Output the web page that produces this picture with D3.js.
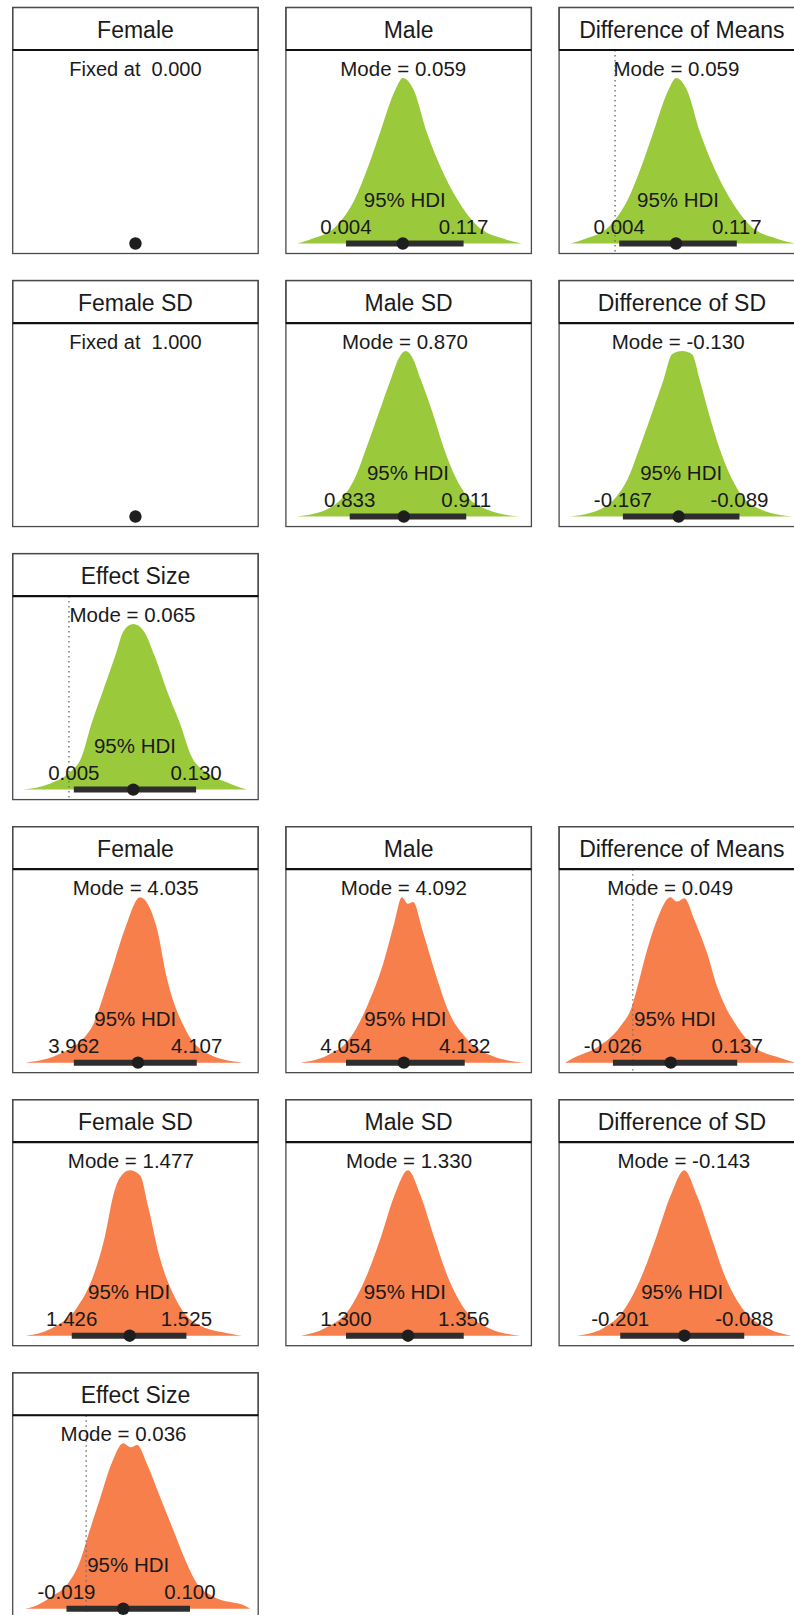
<!DOCTYPE html>
<html>
<head>
<meta charset="utf-8">
<script src="https://cdn.jsdelivr.net/npm/d3@7"></script>
<style>
  body { margin: 0; background: #fff; }
  svg text { font-family: "Liberation Sans", Arial, sans-serif; fill: #1a1a1a; white-space: pre; }
</style>
</head>
<body>
<script>
// panel data: 7 green panels (first model), 7 orange panels (second model)
const titles = ["Female", "Male", "Difference of Means", "Female SD", "Male SD", "Difference of SD", "Effect Size",
                "Female", "Male", "Difference of Means", "Female SD", "Male SD", "Difference of SD", "Effect Size"];
const modes   = [0.000, 0.059, 0.059, 1.000, 0.870, -0.130, 0.065, 4.035, 4.092, 0.049, 1.477, 1.330, -0.143, 0.036];
const isFixed = [true, false, false, true, false, false, false, false, false, false, false, false, false, false];
const hdiLow  = [null, 0.004, 0.004, null, 0.833, -0.167, 0.005, 3.962, 4.054, -0.026, 1.426, 1.300, -0.201, -0.019];
const hdiHigh = [null, 0.117, 0.117, null, 0.911, -0.089, 0.130, 4.107, 4.132, 0.137, 1.525, 1.356, -0.088, 0.100];
const centres = [0, 0.0586, 0.0586, 1, 0.8692, -0.1297, 0.0658, 4.0377, 4.092, 0.0499, 1.476, 1.3295, -0.1425, 0.0357];
const refLine = [null, null, 0, null, null, 0, 0, null, null, 0, null, null, 0, 0];
const xDomains = [[-1, 1], [-0.0538, 0.1822], [-0.0538, 0.1822], [0, 2], [0.7903, 0.9546], [-0.2097, -0.0454], [-0.0575, 0.1935],
                  [3.8899, 4.1795], [4.0145, 4.1758], [-0.0966, 0.2254], [1.375, 1.587], [1.2714, 1.3882], [-0.2567, -0.033], [-0.0708, 0.1657]];

// posterior densities, [value, height relative to peak]
const densGMale = [[-0.043,0],[-0.028,0.03],[-0.005,0.108],[0.0126,0.27],[0.025,0.46],[0.0367,0.67],[0.0515,0.93],[0.0586,1],
  [0.0689,0.93],[0.0817,0.67],[0.095,0.46],[0.1106,0.27],[0.13,0.108],[0.155,0.03],[0.173,0]];
const densGDiffMeans = [[-0.043,0],[-0.028,0.03],[-0.005,0.108],[0.0126,0.27],[0.025,0.46],[0.0367,0.67],[0.0515,0.93],[0.0586,1],
  [0.0689,0.93],[0.0817,0.67],[0.095,0.46],[0.1106,0.27],[0.13,0.108],[0.155,0.03],[0.173,0]];
const densGMaleSD = [[0.7977,0],[0.8178,0.044],[0.829,0.124],[0.8361,0.225],[0.8446,0.426],[0.8525,0.627],[0.8605,0.83],[0.866,0.96],
  [0.8705,1],[0.875,0.96],[0.8805,0.83],[0.8885,0.627],[0.8955,0.426],[0.9045,0.225],[0.9115,0.124],[0.9245,0.044],[0.9465,0]];
const densGDiffSD = [[-0.2023,0],[-0.1822,0.044],[-0.1710,0.124],[-0.1639,0.225],[-0.1554,0.426],[-0.1475,0.627],[-0.1398,0.826],
  [-0.1341,0.98],[-0.1274,1],[-0.1207,0.98],[-0.1156,0.826],[-0.1096,0.627],[-0.1029,0.426],[-0.0939,0.225],[-0.0872,0.124],[-0.0749,0.044],[-0.0528,0]];
const densGEffect = [[-0.047,0],[-0.0196,0.036],[-0.0008,0.097],[0.0129,0.197],[0.0231,0.399],[0.035,0.601],[0.047,0.802],[0.0562,0.962],
  [0.0658,1],[0.076,0.962],[0.088,0.802],[0.1,0.601],[0.1136,0.399],[0.1256,0.197],[0.1426,0.097],[0.1648,0.036],[0.1819,0]];
const densOFemale = [[3.905,0],[3.9415,0.044],[3.9816,0.2],[4.0036,0.51],[4.0231,0.82],[4.040,1],[4.0596,0.82],[4.0718,0.51],
  [4.0937,0.2],[4.124,0.044],[4.1606,0]];
const densOMale = [[4.0242,0],[4.0418,0.044],[4.0568,0.15],[4.0683,0.35],[4.0785,0.6],[4.0859,0.85],[4.0907,1],[4.0947,0.96],
  [4.0981,0.97],[4.1042,0.8],[4.1124,0.55],[4.1219,0.3],[4.1327,0.15],[4.149,0.044],[4.1707,0]];
const densODiffMeans = [[-0.0887,0],[-0.0778,0.028],[-0.045,0.098],[-0.0164,0.219],[-0.0011,0.34],[0.0063,0.46],[0.0177,0.662],
  [0.0318,0.864],[0.0493,1],[0.0581,0.973],[0.0677,0.994],[0.0808,0.864],[0.0975,0.662],[0.1106,0.46],[0.1215,0.34],[0.1369,0.219],
  [0.1587,0.098],[0.1938,0.028],[0.2135,0]];
const densOFemaleSD = [[1.386,0],[1.4083,0.044],[1.4306,0.17],[1.444,0.35],[1.4546,0.6],[1.4618,0.845],[1.4671,0.95],[1.476,1],
  [1.485,0.97],[1.492,0.78],[1.5019,0.475],[1.5152,0.23],[1.533,0.075],[1.5642,0.01],[1.573,0]];
const densOMaleSD = [[1.2785,0],[1.2897,0.044],[1.301,0.15],[1.3094,0.35],[1.3167,0.6],[1.3231,0.85],[1.3295,1],[1.3354,0.85],
  [1.3418,0.6],[1.3486,0.35],[1.357,0.15],[1.3683,0.044],[1.383,0]];
const densODiffSD = [[-0.2404,0],[-0.2169,0.044],[-0.1981,0.15],[-0.1821,0.35],[-0.168,0.6],[-0.1549,0.85],[-0.1426,1],[-0.1313,0.85],
  [-0.1182,0.6],[-0.105,0.35],[-0.088,0.15],[-0.0664,0.044],[-0.0448,0]];
const densOEffect = [[-0.0592,0],[-0.0512,0.012],[-0.0334,0.073],[-0.0174,0.154],[-0.0068,0.274],[0.0035,0.476],[0.0139,0.677],
  [0.0245,0.879],[0.0357,1],[0.0428,0.976],[0.0492,0.99],[0.0583,0.879],[0.0711,0.677],[0.0839,0.476],[0.0969,0.274],[0.1065,0.154],
  [0.1226,0.073],[0.1548,0.012],[0.158,0]];
const densities = [null, densGMale, densGDiffMeans, null, densGMaleSD, densGDiffSD, densGEffect,
                   densOFemale, densOMale, densODiffMeans, densOFemaleSD, densOMaleSD, densODiffSD, densOEffect];

// grid slot of each panel
const slotRow = [0, 0, 0, 1, 1, 1, 2, 3, 3, 3, 4, 4, 4, 5];
const slotCol = [0, 1, 2, 0, 1, 2, 0, 0, 1, 2, 0, 1, 2, 0];

const fillGreen = "#9aca3c", fillOrange = "#f67f4c";
const W = 794, H = 1615;
const pw = 245.5, ph = 246, strip = 42.5;
const x0 = 12.7, y0 = 7.5, pitchX = 273.2, pitchY = 273.05;
const baseY = 236, peakY = 70.5;

var svg = d3.select("body").append("svg")
    .attr("width", W)
    .attr("height", H);

var y = d3.scaleLinear().domain([0, 1]).range([baseY, peakY]);
// plain hyphen for negatives, as in the original
var fmt = function(v) { return d3.format(".3f")(v).replace("\u2212", "-"); };

titles.forEach(function(title, i) {
  var g = svg.append("g")
      .attr("transform", "translate(" + (x0 + slotCol[i] * pitchX) + "," + (y0 + slotRow[i] * pitchY) + ")");
  var x = d3.scaleLinear().domain(xDomains[i]).range([0, pw]);
  var fill = i < 7 ? fillGreen : fillOrange;

  g.append("clipPath").attr("id", "clip" + i)
    .append("rect").attr("x", 0).attr("y", strip).attr("width", pw).attr("height", ph - strip);

  // panel background
  g.append("rect").attr("x", 0).attr("y", strip).attr("width", pw).attr("height", ph - strip)
    .attr("fill", "#fff");

  var inner = g.append("g").attr("clip-path", "url(#clip" + i + ")");

  if (densities[i]) {
    var area = d3.area()
        .x(function(d) { return x(d[0]); })
        .y0(y(0))
        .y1(function(d) { return y(d[1]); })
        .curve(d3.curveMonotoneX);
    inner.append("path").datum(densities[i])
      .attr("d", area)
      .attr("fill", fill);
  }

  if (refLine[i] !== null && refLine[i] >= xDomains[i][0] && refLine[i] <= xDomains[i][1]) {
    inner.append("line")
      .attr("x1", x(refLine[i])).attr("x2", x(refLine[i]))
      .attr("y1", strip).attr("y2", ph)
      .attr("stroke", "#707070").attr("stroke-width", 1.4)
      .attr("stroke-dasharray", "1.4,3.6");
  }

  if (!isFixed[i]) {
    inner.append("line")
      .attr("x1", x(hdiLow[i])).attr("x2", x(hdiHigh[i]))
      .attr("y1", y(0)).attr("y2", y(0))
      .attr("stroke", "#2e2e2e").attr("stroke-width", 6);
  }
  inner.append("circle")
    .attr("cx", x(centres[i])).attr("cy", y(0)).attr("r", 6.2)
    .attr("fill", "#1e1e1e");

  // texts
  if (isFixed[i]) {
    g.append("text").attr("x", x(modes[i])).attr("y", 68.5)
      .attr("text-anchor", "middle").style("font-size", "20px")
      .text("Fixed at  " + fmt(modes[i]));
  } else {
    g.append("text").attr("x", x(modes[i])).attr("y", 68.5)
      .attr("text-anchor", "middle").style("font-size", "20.5px")
      .text("Mode = " + fmt(modes[i]));
    g.append("text").attr("x", x((hdiLow[i] + hdiHigh[i]) / 2)).attr("y", 199.4)
      .attr("text-anchor", "middle").style("font-size", "20.5px")
      .text("95% HDI");
    g.append("text").attr("x", x(hdiLow[i])).attr("y", 226)
      .attr("text-anchor", "middle").style("font-size", "20.5px")
      .text(fmt(hdiLow[i]));
    g.append("text").attr("x", x(hdiHigh[i])).attr("y", 226)
      .attr("text-anchor", "middle").style("font-size", "20.5px")
      .text(fmt(hdiHigh[i]));
  }

  // strip
  g.append("rect").attr("x", 0).attr("y", 0).attr("width", pw).attr("height", strip)
    .attr("fill", "#fff").attr("stroke", "#4a4a4a").attr("stroke-width", 1.3);
  g.append("text").attr("x", pw / 2).attr("y", 30.5)
    .attr("text-anchor", "middle").style("font-size", "23px")
    .text(title);

  // frame
  g.append("rect").attr("x", 0).attr("y", 0).attr("width", pw).attr("height", ph)
    .attr("fill", "none").attr("stroke", "#4a4a4a").attr("stroke-width", 1.3);
  g.append("line").attr("x1", 0).attr("x2", pw).attr("y1", strip).attr("y2", strip)
    .attr("stroke", "#111").attr("stroke-width", 2.2);
});
</script>
</body>
</html>
